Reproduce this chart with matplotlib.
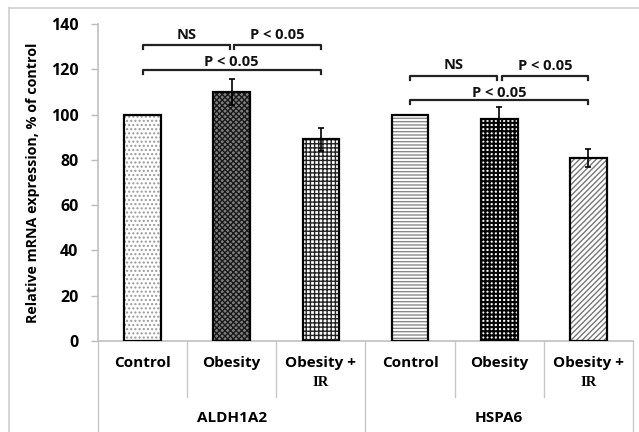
import matplotlib
matplotlib.use("Agg")
import matplotlib.pyplot as plt
import matplotlib.transforms as mtransforms
from matplotlib.lines import Line2D
import numpy as np

# Datos
genes = ["ALDH1A2", "HSPA6"]
groups = ["Control", "Obesity", "Obesity +\nIR"]
aldh_values = [100, 110, 89]
aldh_err = [0, 5.7, 5]
hspa_values = [100, 98, 81]
hspa_err = [0, 5.3, 4]

values = aldh_values + hspa_values
errors = aldh_err + hspa_err
hatches = ["....", "xxxxxx", "++++", "-----", "++++", "//////"]
hatch_colors = ["#9a9a9a", "#1a1a1a", "#222222", "#8a8a8a", "#000000", "#777777"]
face_colors = ["white", "#808080", "white", "white", "white", "white"]
hatch_widths = [1.0, 1.0, 1.0, 1.0, 1.5, 1.0]

# Comparaciones: (gen, i, j, nivel, texto)
comparisons = [
    (0, 0, 1, 130.7, "NS"),
    (0, 1, 2, 130.7, "P < 0.05"),
    (0, 0, 2, 119.7, "P < 0.05"),
    (1, 0, 1, 117.2, "NS"),
    (1, 1, 2, 117.2, "P < 0.05"),
    (1, 0, 2, 106.4, "P < 0.05"),
]

plt.rcParams["font.family"] = ["Open Sans", "DejaVu Sans"]
plt.rcParams["font.weight"] = "bold"

fig = plt.figure(figsize=(6.39, 4.32), dpi=100)
ax = fig.add_axes([98 / 639, 1 - 341 / 432, 535 / 639, 317 / 432])

x = np.arange(len(values))
width = 0.41
for i in range(len(values)):
    with plt.rc_context({"hatch.linewidth": hatch_widths[i]}):
        ax.bar(x[i], values[i], width, color=face_colors[i], hatch=hatches[i],
               edgecolor=hatch_colors[i], linewidth=0, zorder=2)
ax.bar(x, values, width, fill=False, edgecolor="black", linewidth=1.6, zorder=3)
ax.errorbar(x, values, yerr=errors, fmt="none", ecolor="black",
            elinewidth=1.2, capsize=2.5, capthick=1.2, zorder=4)

# Corchetes de significancia
for g, i, j, level, label in comparisons:
    xi = g * 3 + i
    xj = g * 3 + j
    if j - i == 1 and i == 1:
        xi += 0.03
    if j - i == 1 and i == 0:
        xj -= 0.02
    ax.plot([xi, xi, xj, xj], [level - 1.8, level, level, level - 1.8],
            color="#222222", lw=1.6, zorder=5, clip_on=False)
    off = 3.3 if j - i == 2 else 4.3
    if label == "NS":
        off = 4.6
    ax.text((xi + xj) / 2, level + off, label, ha="center", va="center",
            fontsize=10.5, fontweight="bold", color="#111111")

ax.set_xlim(-0.5, 5.5)
ax.set_ylim(0, 140)
ax.set_yticks(range(0, 141, 20))
ax.set_xticks([])
ax.tick_params(axis="y", length=5, width=1, color="#bbbbbb", pad=9,
               labelsize=11.5)
for lab in ax.get_yticklabels():
    lab.set_fontweight("bold")
for side in ["top", "right"]:
    ax.spines[side].set_visible(False)
for side in ["left", "bottom"]:
    ax.spines[side].set_color("#c0c0c0")
    ax.spines[side].set_linewidth(1.2)

ax.set_ylabel("Relative mRNA expression, % of control", fontsize=10.3,
              fontweight="bold")
ax.yaxis.set_label_coords(-0.108, 0.5)

# Etiquetas de categorías en dos niveles
trans = mtransforms.blended_transform_factory(ax.transData, ax.transAxes)
ax_h = 317.0
for k in range(len(values)):
    name = groups[k % 3]
    if "\n" in name:
        first, second = name.split("\n")
        ax.text(x[k], -(363 - 341) / ax_h, first, transform=trans, ha="center",
                va="center", fontsize=11, fontweight="bold")
        ax.text(x[k], -(382 - 341) / ax_h, second, transform=trans,
                ha="center", va="center", fontsize=10.5, fontweight="bold",
                family="Liberation Serif")
    else:
        ax.text(x[k], -(363 - 341) / ax_h, name, transform=trans, ha="center",
                va="center", fontsize=11, fontweight="bold")
for g, gene in enumerate(genes):
    ax.text(g * 3 + 1, -(418 - 341) / ax_h, gene, transform=trans,
            ha="center", va="center", fontsize=11, fontweight="bold")

for b in [0.5, 1.5, 3.5, 4.5]:
    ax.add_line(Line2D([b, b], [0, -(397 - 341) / ax_h], transform=trans,
                       color="#c8c8c8", lw=1, clip_on=False))
for b in [-0.5, 2.5, 5.5]:
    ax.add_line(Line2D([b, b], [0, -(432 - 341) / ax_h], transform=trans,
                       color="#c8c8c8", lw=1, clip_on=False))

# Borde exterior gris
fig.add_artist(Line2D([9 / 639, 1], [1 - 8 / 432, 1 - 8 / 432],
                      transform=fig.transFigure, color="#cfcfcf", lw=1.2))
fig.add_artist(Line2D([9 / 639, 9 / 639], [0, 1 - 8 / 432],
                      transform=fig.transFigure, color="#cfcfcf", lw=1.2))

fig.savefig("out.png", dpi=100)
